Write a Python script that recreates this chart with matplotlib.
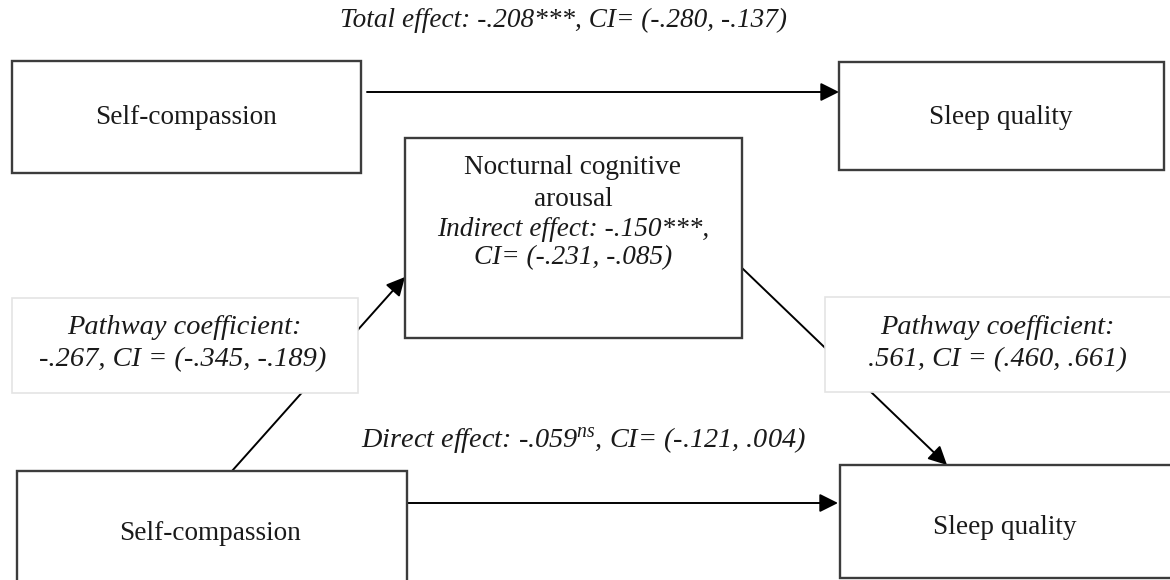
import matplotlib.pyplot as plt
from matplotlib.patches import Rectangle

plt.rcParams['font.family'] = ['Liberation Serif', 'DejaVu Serif']
plt.rcParams['mathtext.fontset'] = 'custom'
plt.rcParams['mathtext.rm'] = 'Liberation Serif'
plt.rcParams['mathtext.it'] = 'Liberation Serif:italic'

# Mediation model values
predictor = 'Self-compassion'
outcome = 'Sleep quality'
mediator = ['Nocturnal cognitive', 'arousal']

total_effect = ['-.208', '***', '-.280', '-.137']
indirect_effect = ['-.150', '***', '-.231', '-.085']
direct_effect = ['-.059', 'ns', '-.121', '.004']
path_a = ['-.267', '-.345', '-.189']
path_b = ['.561', '.460', '.661']

fig = plt.figure(figsize=(11.7, 5.8), dpi=100)
ax = fig.add_axes([0, 0, 1, 1])
ax.set_xlim(0, 1170)
ax.set_ylim(580, 0)
ax.axis('off')

fs = 19.6
ink = '#1a1a1a'
box_kw = dict(facecolor='white', edgecolor='#3c3c3c', linewidth=1.7)
lab_kw = dict(facecolor='white', edgecolor='#e4e4e4', linewidth=1.2)
arrow_kw = dict(arrowstyle='-|>', color='black', lw=1.4, mutation_scale=28,
                shrinkA=0, shrinkB=0)
txt_kw = dict(fontsize=fs, ha='center', va='center', zorder=3, color=ink)
path_kw = {**txt_kw, 'fontsize': 20.4, 'style': 'italic'}


def box(x0, y0, x1, y1, z=2, **kw):
    ax.add_patch(Rectangle((x0, y0), x1 - x0, y1 - y0, zorder=z, **kw))


def arrow(p0, p1):
    ax.annotate('', xy=p1, xytext=p0, arrowprops=arrow_kw, zorder=1)


# total effect model (top row)
box(12, 61, 361, 173, **box_kw)
box(839, 62, 1164, 170, **box_kw)
ax.text(186, 118, predictor, **txt_kw)
ax.text(1001, 117, outcome, **txt_kw)
arrow((367, 92), (839, 92))
ax.text(563, 20, f'Total effect: {total_effect[0]}{total_effect[1]}, '
        f'CI= ({total_effect[2]}, {total_effect[3]})', style='italic', **txt_kw)

# mediation model (bottom part)
box(17, 471, 407, 620, **box_kw)
box(840, 465, 1185, 578, **box_kw)
ax.text(210, 533, predictor, **txt_kw)
ax.text(1005, 527, outcome, **txt_kw)
arrow((407, 503), (838, 503))
ax.text(583, 440, f'Direct effect: {direct_effect[0]}$^{{{direct_effect[1]}}}$, '
        f'CI= ({direct_effect[2]}, {direct_effect[3]})', style='italic',
        **{**txt_kw, 'fontsize': 20.3})

# mediator
box(405, 138, 742, 338, **box_kw)
ax.text(573, 167, mediator[0], **txt_kw)
ax.text(573, 199, mediator[1], **txt_kw)
ax.text(573, 230, f'Indirect effect: {indirect_effect[0]}{indirect_effect[1]},',
        style='italic', **txt_kw)
ax.text(573, 258, f'CI= ({indirect_effect[2]}, {indirect_effect[3]})',
        style='italic', **txt_kw)

# a and b paths, partly hidden behind their coefficient labels
arrow((232, 471), (405, 277))
arrow((742, 268), (947, 465))

box(12, 298, 358, 393, **lab_kw)
ax.text(184, 328, 'Pathway coefficient:', **path_kw)
ax.text(183, 360, f'{path_a[0]}, CI = ({path_a[1]}, {path_a[2]})', **path_kw)

box(825, 297, 1185, 392, **lab_kw)
ax.text(997, 327, 'Pathway coefficient:', **path_kw)
ax.text(997, 360, f'{path_b[0]}, CI = ({path_b[1]}, {path_b[2]})', **path_kw)

fig.savefig('out.png', dpi=100, facecolor='white')
